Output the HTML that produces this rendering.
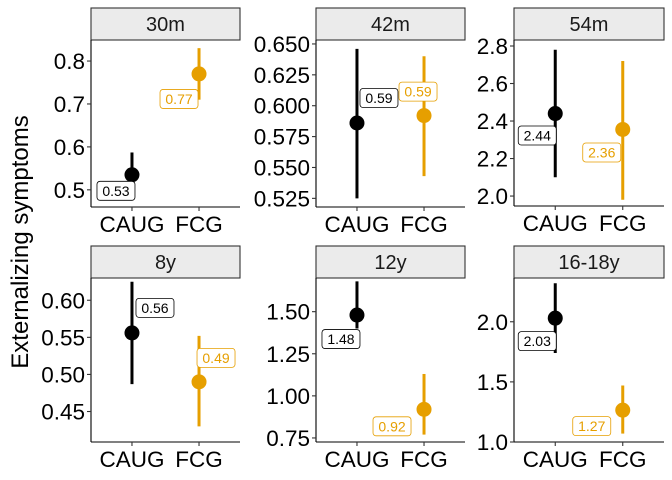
<!DOCTYPE html>
<html><head><meta charset="utf-8"><style>
body{margin:0;background:#fff;}
svg{display:block;font-family:"Liberation Sans",sans-serif;}
</style></head><body>
<svg id="c" width="672" height="480"></svg>
<script>
const groups = ["CAUG","FCG"];
const panelTitles = ["30m","42m","54m","8y","12y","16-18y"];
const means = [[0.535,0.77],[0.586,0.592],[2.44,2.355],[0.556,0.49],[1.48,0.92],[2.03,1.265]];
const lows = [[0.505,0.71],[0.525,0.543],[2.10,1.98],[0.487,0.43],[1.40,0.77],[1.74,1.07]];
const highs = [[0.587,0.83],[0.646,0.640],[2.78,2.72],[0.625,0.552],[1.68,1.13],[2.32,1.47]];
const labels = [["0.53","0.77"],["0.59","0.59"],["2.44","2.36"],["0.56","0.49"],["1.48","0.92"],["2.03","1.27"]];
const ticks = [[0.5,0.6,0.7,0.8],[0.525,0.55,0.575,0.6,0.625,0.65],[2.0,2.2,2.4,2.6,2.8],[0.45,0.5,0.55,0.6],[0.75,1.0,1.25,1.5],[1.0,1.5,2.0]];
const tickLabels = [["0.5","0.6","0.7","0.8"],["0.525","0.550","0.575","0.600","0.625","0.650"],["2.0","2.2","2.4","2.6","2.8"],["0.45","0.50","0.55","0.60"],["0.75","1.00","1.25","1.50"],["1.0","1.5","2.0"]];
const domains = [[0.46,0.849],[0.518,0.6532],[1.947,2.832],[0.4089,0.63],[0.726,1.70],[1.0,2.364]];
// layout (pixel) settings
const lefts=[91,316,514,91,316,514], widths=[149,149,150,149,149,150];
const tops=[40,40,40,278,278,278], bots=[207,207,206,442,442,442];
const offs=[[[-16,16],[-20,25]],[[22,-25],[-6,-24]],[[-18,22],[-21,23]],[[23,-25],[17,-24]],[[-16,24],[-32,17]],[[-18,23],[-31,16]]];
const colors=["#000000","#E69F00"];
const svg=document.getElementById('c');
const NS="http://www.w3.org/2000/svg";
function mk(t,a,p){const e=document.createElementNS(NS,t);for(const k in a)e.setAttribute(k,a[k]);(p||svg).appendChild(e);return e;}
panelTitles.forEach((title,i)=>{
  const L=lefts[i],W=widths[i],T=tops[i],B=bots[i],d=domains[i];
  const y=v=>B-(v-d[0])/(d[1]-d[0])*(B-T);
  const x=j=>L+W*(j===0?0.275:0.725);
  const g=mk('g',{});
  
  
  const s=mk('rect',{x:L,y:T-32,width:W,height:32,fill:'#ebebeb',stroke:'#333','stroke-width':1.1},g);
  
  
  const st=mk('text',{x:L+W/2,y:T-9,'text-anchor':'middle','font-size':20,fill:'#1a1a1a'},g);st.textContent=title;
  
  
  mk('line',{x1:L,y1:T,x2:L,y2:B,stroke:'#000','stroke-width':1.1},g);
  mk('line',{x1:L,y1:B,x2:L+W,y2:B,stroke:'#000','stroke-width':1.1},g);
  ticks[i].forEach((v,k)=>{
    mk('line',{x1:L-4,y1:y(v),x2:L,y2:y(v),stroke:'#333','stroke-width':1.1},g);
    const t=mk('text',{x:L-6,y:y(v)+8,'text-anchor':'end','font-size':22.5,fill:'#000'},g);t.textContent=tickLabels[i][k];
    
    
  });
  groups.forEach((gr,j)=>{
    mk('line',{x1:x(j),y1:B,x2:x(j),y2:B+4,stroke:'#333','stroke-width':1.1},g);
    const t=mk('text',{x:x(j),y:B+25,'text-anchor':'middle','font-size':22.5,fill:'#000'},g);t.textContent=gr;
    
    
    const ln=mk('line',{x1:x(j),y1:y(lows[i][j]),x2:x(j),y2:y(highs[i][j]),stroke:colors[j],'stroke-width':3},g);
    
    
    const c=mk('circle',{cx:x(j),cy:y(means[i][j]),r:7.5,fill:colors[j]},g);
    
    
    const cx=x(j)+offs[i][j][0],cy=y(means[i][j])+offs[i][j][1];
    const r=mk('rect',{x:cx-19,y:cy-9.5,width:38,height:19,rx:3,fill:'#fff',stroke:colors[j],'stroke-width':0.8},g);
    
    
    const lt=mk('text',{x:cx,y:cy+5,'text-anchor':'middle','font-size':14,fill:colors[j]},g);lt.textContent=labels[i][j];
    
    
  });
});
const yt=mk('text',{x:0,y:0,transform:'translate(28,242) rotate(-90)','text-anchor':'middle','font-size':24,fill:'#000'});
yt.textContent='Externalizing symptoms';


</script>
</body></html>
